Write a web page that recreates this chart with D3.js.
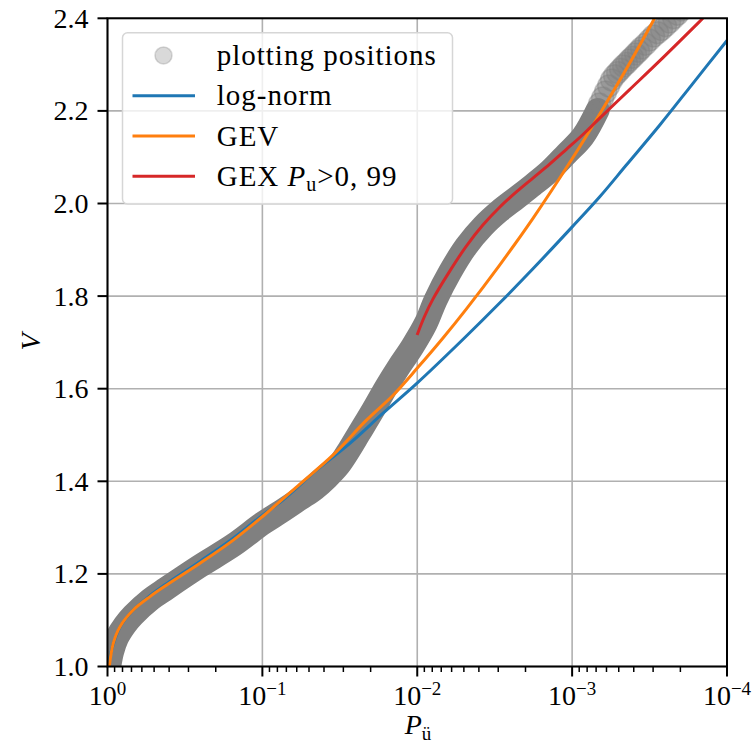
<!DOCTYPE html>
<html><head><meta charset="utf-8">
<script src="https://cdn.jsdelivr.net/npm/d3@7"></script>
<style>
body{margin:0;background:#fff}
svg{display:block}
text{font-family:"Liberation Serif","Times New Roman",serif;fill:#000}
</style>
</head><body>
<svg id="c" width="756" height="749"></svg>
<script>
// ---------- data ----------
const xTickValues = [1, 0.1, 0.01, 0.001, 0.0001];
const xTickExponents = ["0", "\u22121", "\u22122", "\u22123", "\u22124"];
const yTickValues = [1.0, 1.2, 1.4, 1.6, 1.8, 2.0, 2.2, 2.4];
const yTickLabels = ["1.0", "1.2", "1.4", "1.6", "1.8", "2.0", "2.2", "2.4"];

// plotting positions (dense part): log10(P), V
const ppLogP = [-0.0097, -0.029, -0.061, -0.113, -0.166, -0.274, -0.382, -0.597, -0.812, -1.001, -1.113, -1.242, -1.339, -1.416, -1.494, -1.560, -1.625, -1.715, -1.801, -1.883, -1.969, -2.055, -2.119, -2.210, -2.317, -2.425, -2.532, -2.640, -2.747, -2.855, -2.963, -3.070, -3.165];
const ppV    = [0.997, 1.031, 1.062, 1.090, 1.111, 1.144, 1.169, 1.217, 1.262, 1.309, 1.333, 1.362, 1.384, 1.407, 1.435, 1.468, 1.504, 1.554, 1.604, 1.648, 1.691, 1.741, 1.792, 1.851, 1.908, 1.951, 1.984, 2.012, 2.040, 2.070, 2.107, 2.145, 2.202];
// plotting positions (sparse upper tail)
const tailLogP = [-3.177, -3.197, -3.216, -3.236, -3.255, -3.274, -3.294, -3.313, -3.332, -3.352, -3.371, -3.390, -3.410, -3.429, -3.448, -3.474, -3.500, -3.526, -3.552, -3.577, -3.603, -3.629, -3.655, -3.681, -3.707, -3.732, -3.758];
const tailV    = [2.215, 2.228, 2.241, 2.254, 2.267, 2.276, 2.283, 2.290, 2.297, 2.303, 2.310, 2.316, 2.323, 2.329, 2.336, 2.344, 2.353, 2.362, 2.369, 2.376, 2.384, 2.392, 2.401, 2.409, 2.418, 2.427, 2.435];

// log-normal fit
const lnLogP = [-0.0015, -0.004, -0.0374, -0.0806, -0.166, -0.274, -0.382, -0.597, -0.812, -1.001, -1.134, -1.350, -1.565, -1.779, -1.999, -2.306, -2.532, -2.747, -2.999, -3.177, -3.350, -3.565, -3.779, -4.0];
const lnV    = [0.96, 1.0, 1.048, 1.085, 1.122, 1.153, 1.179, 1.227, 1.277, 1.327, 1.360, 1.424, 1.482, 1.547, 1.612, 1.710, 1.785, 1.859, 1.949, 2.014, 2.083, 2.169, 2.259, 2.352];
// GEV fit
const gevLogP = [-0.004, -0.0116, -0.0374, -0.0806, -0.166, -0.274, -0.382, -0.597, -0.812, -1.001, -1.242, -1.457, -1.672, -1.844, -1.999, -2.165, -2.319, -2.532, -2.745, -2.997, -3.190, -3.371, -3.532, -3.629];
const gevV    = [0.96, 1.0, 1.050, 1.086, 1.122, 1.151, 1.176, 1.223, 1.273, 1.324, 1.394, 1.457, 1.532, 1.586, 1.644, 1.709, 1.773, 1.867, 1.967, 2.095, 2.200, 2.303, 2.400, 2.460];
// GEX fit for Pu > 0.99
const gexLogP = [-1.999, -2.048, -2.102, -2.210, -2.317, -2.425, -2.532, -2.640, -2.747, -2.855, -2.963, -3.070, -3.177, -3.371, -3.565, -3.844, -3.952];
const gexV    = [1.716, 1.757, 1.794, 1.854, 1.908, 1.954, 1.992, 2.025, 2.055, 2.085, 2.117, 2.149, 2.184, 2.246, 2.308, 2.400, 2.436];

const legendLabels = ["plotting positions", "log-norm", "GEV", "GEX"];
const colors = {ln: "#1f77b4", gev: "#ff7f0e", gex: "#d62728", pp: "#808080"};

// ---------- layout ----------
const svg = d3.select("#c");
const L = 107.5, R = 727, T = 18.3, B = 666.5;
const x = d3.scaleLog().domain([1, 1e-4]).range([L, R]);
const y = d3.scaleLinear().domain([1.0, 2.4]).range([B, T]);

svg.append("defs").append("clipPath").attr("id", "clip")
  .append("rect").attr("x", L).attr("y", T).attr("width", R - L).attr("height", B - T);

// grid
const grid = svg.append("g");
grid.selectAll(".gx").data(xTickValues).join("line")
  .attr("x1", d => x(d)).attr("x2", d => x(d)).attr("y1", T).attr("y2", B)
  .attr("stroke", "#b0b0b0").attr("stroke-width", 1.6);
grid.selectAll(".gy").data(yTickValues).join("line")
  .attr("x1", L).attr("x2", R).attr("y1", d => y(d)).attr("y2", d => y(d))
  .attr("stroke", "#b0b0b0").attr("stroke-width", 1.6);

const plot = svg.append("g").attr("clip-path", "url(#clip)");
const toPts = (lp, v) => lp.map((p, i) => [Math.pow(10, p), v[i]]);
const line = d3.line().x(d => x(d[0])).y(d => y(d[1])).curve(d3.curveCatmullRom.alpha(0.5));

// plotting positions: dense band
plot.append("path").datum(toPts(ppLogP, ppV)).attr("d", line)
  .attr("fill", "none").attr("stroke", colors.pp).attr("stroke-width", 24)
  .attr("stroke-linecap", "round").attr("stroke-linejoin", "round");
// sparse tail as translucent markers
plot.selectAll(".tail").data(toPts(tailLogP, tailV)).join("circle")
  .attr("cx", d => x(d[0])).attr("cy", d => y(d[1])).attr("r", 11)
  .attr("fill", colors.pp).attr("fill-opacity", 0.42)
  .attr("stroke", colors.pp).attr("stroke-opacity", 0.42).attr("stroke-width", 1.5);

// fits
[[lnLogP, lnV, colors.ln], [gevLogP, gevV, colors.gev], [gexLogP, gexV, colors.gex]].forEach(([lp, v, c]) => {
  plot.append("path").datum(toPts(lp, v)).attr("d", line)
    .attr("fill", "none").attr("stroke", c).attr("stroke-width", 3);
});

// spines
svg.append("rect").attr("x", L).attr("y", T).attr("width", R - L).attr("height", B - T)
  .attr("fill", "none").attr("stroke", "#000").attr("stroke-width", 2);

// x ticks
const minor = [];
for (let k = 0; k > -4; k--) for (let m = 2; m <= 9; m++) minor.push(m * Math.pow(10, k - 1));
svg.selectAll(".xminor").data(minor).join("line")
  .attr("x1", d => x(d)).attr("x2", d => x(d)).attr("y1", B).attr("y2", B + 5.5)
  .attr("stroke", "#000").attr("stroke-width", 1.5);
svg.selectAll(".xmajor").data(xTickValues).join("line")
  .attr("x1", d => x(d)).attr("x2", d => x(d)).attr("y1", B).attr("y2", B + 10)
  .attr("stroke", "#000").attr("stroke-width", 2);
const xl = svg.selectAll(".xl").data(xTickValues).join("text")
  .attr("x", d => x(d)).attr("y", 705).attr("text-anchor", "middle").attr("font-size", 28);
xl.append("tspan").text("10");
xl.append("tspan").attr("font-size", 19).attr("dy", -10).text((d, i) => xTickExponents[i]);

// y ticks
svg.selectAll(".ymajor").data(yTickValues).join("line")
  .attr("x1", L - 10).attr("x2", L).attr("y1", d => y(d)).attr("y2", d => y(d))
  .attr("stroke", "#000").attr("stroke-width", 2);
svg.selectAll(".yl").data(yTickValues).join("text")
  .attr("x", 88.5).attr("y", d => y(d) + 9.5).attr("text-anchor", "end").attr("font-size", 28)
  .text((d, i) => yTickLabels[i]);

// axis labels
const xlab = svg.append("text").attr("x", 418).attr("y", 734).attr("text-anchor", "middle").attr("font-size", 28);
xlab.append("tspan").attr("font-style", "italic").text("P");
xlab.append("tspan").attr("font-size", 19).attr("dy", 6).text("ü");
svg.append("text").attr("transform", "translate(40,342) rotate(-90)").attr("text-anchor", "middle")
  .attr("font-size", 28).attr("font-style", "italic").text("V");

// legend
const lg = svg.append("g");
lg.append("rect").attr("x", 122.5).attr("y", 32.7).attr("width", 330).attr("height", 171.3).attr("rx", 5)
  .attr("fill", "#fff").attr("fill-opacity", 0.8).attr("stroke", "#d6d6d6").attr("stroke-width", 1.5);
const rows = [55.4, 95.7, 136, 176.3];
lg.append("circle").attr("cx", 163.5).attr("cy", rows[0]).attr("r", 8.5)
  .attr("fill", colors.pp).attr("fill-opacity", 0.3).attr("stroke", colors.pp).attr("stroke-opacity", 0.3).attr("stroke-width", 1.5);
[colors.ln, colors.gev, colors.gex].forEach((c, i) => {
  lg.append("line").attr("x1", 132.5).attr("x2", 195).attr("y1", rows[i + 1]).attr("y2", rows[i + 1])
    .attr("stroke", c).attr("stroke-width", 3);
});
legendLabels.forEach((t, i) => {
  const tx = lg.append("text").attr("x", 216.7).attr("y", rows[i] + 9.7).attr("font-size", 29).attr("letter-spacing", 1).text(t);
  if (i === 3) {
    tx.append("tspan").text(" ");
    tx.append("tspan").attr("font-style", "italic").text("P");
    tx.append("tspan").attr("font-size", 20).attr("dy", 5).text("u");
    tx.append("tspan").attr("dy", -5).text(">0, 99");
  }
});
</script>
</body></html>
